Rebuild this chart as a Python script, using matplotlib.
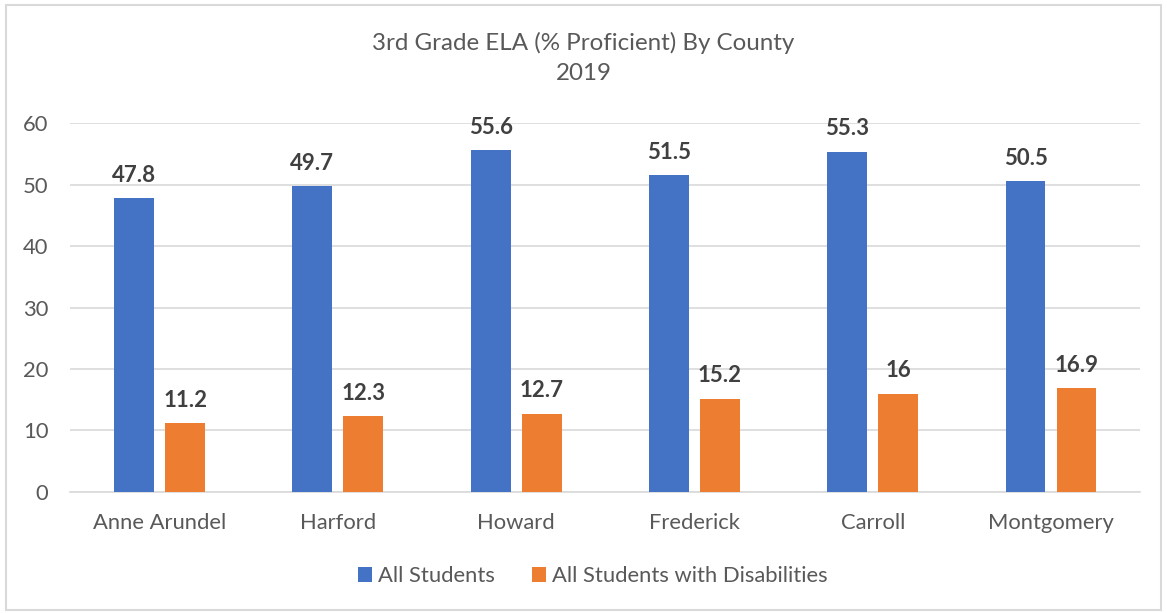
import numpy as np
import matplotlib.pyplot as plt
from matplotlib.patches import Rectangle

counties = ['Anne Arundel', 'Harford', 'Howard', 'Frederick', 'Carroll', 'Montgomery']
all_students = [47.8, 49.7, 55.6, 51.5, 55.3, 50.5]
with_disabilities = [11.2, 12.3, 12.7, 15.2, 16, 16.9]

plt.rcParams['font.family'] = ['Lato', 'DejaVu Sans']
gray = '#595959'

fig = plt.figure(figsize=(11.67, 6.13), dpi=100)
fig.patches.append(Rectangle((0.005, 0.005), 0.99, 0.987, transform=fig.transFigure,
                             fill=False, edgecolor='#D9D9D9', linewidth=1.5))
ax = fig.add_axes([0.0604, 0.1974, 0.9166, 0.6019])

x = np.arange(len(counties))
w = 0.224
b1 = ax.bar(x - 0.143, all_students, w, color='#4472C4', label='All Students', zorder=3)
b2 = ax.bar(x + 0.143, with_disabilities, w, color='#ED7D31',
            label='All Students with Disabilities', zorder=3)

for bars in (b1, b2):
    for r in bars:
        v = r.get_height()
        ax.annotate(f'{v:g}', (r.get_x() + r.get_width() / 2, v), xytext=(0, 9),
                    textcoords='offset points', ha='center', va='bottom',
                    fontsize=16, fontweight='bold', color='#404040')

ax.set_xlim(-0.5, len(counties) - 0.5)
ax.set_ylim(0, 60)
ax.set_yticks(range(0, 61, 10))
ax.set_xticks(x)
ax.set_xticklabels(counties)
ax.tick_params(axis='both', length=0, labelsize=15.8, colors=gray)
ax.tick_params(axis='y', pad=16)
ax.tick_params(axis='x', pad=15)
ax.grid(axis='y', color='#D9D9D9', linewidth=1.2, zorder=0)
for s in ['top', 'right', 'left']:
    ax.spines[s].set_visible(False)
ax.spines['bottom'].set_color('#D9D9D9')
ax.spines['bottom'].set_linewidth(1.2)

fig.text(0.5, 0.93, '3rd Grade ELA (% Proficient) By County', ha='center', va='center',
         fontsize=17.4, color=gray)
fig.text(0.5, 0.88, '2019', ha='center', va='center', fontsize=17.4, color=gray)

fig.legend(handles=[b1, b2], loc='center', bbox_to_anchor=(0.508, 0.06), ncol=2,
           frameon=False, fontsize=15.8, labelcolor=gray, handlelength=0.65,
           handleheight=0.65, handletextpad=0.3, columnspacing=1.65)

plt.savefig('out.png', dpi=100)
